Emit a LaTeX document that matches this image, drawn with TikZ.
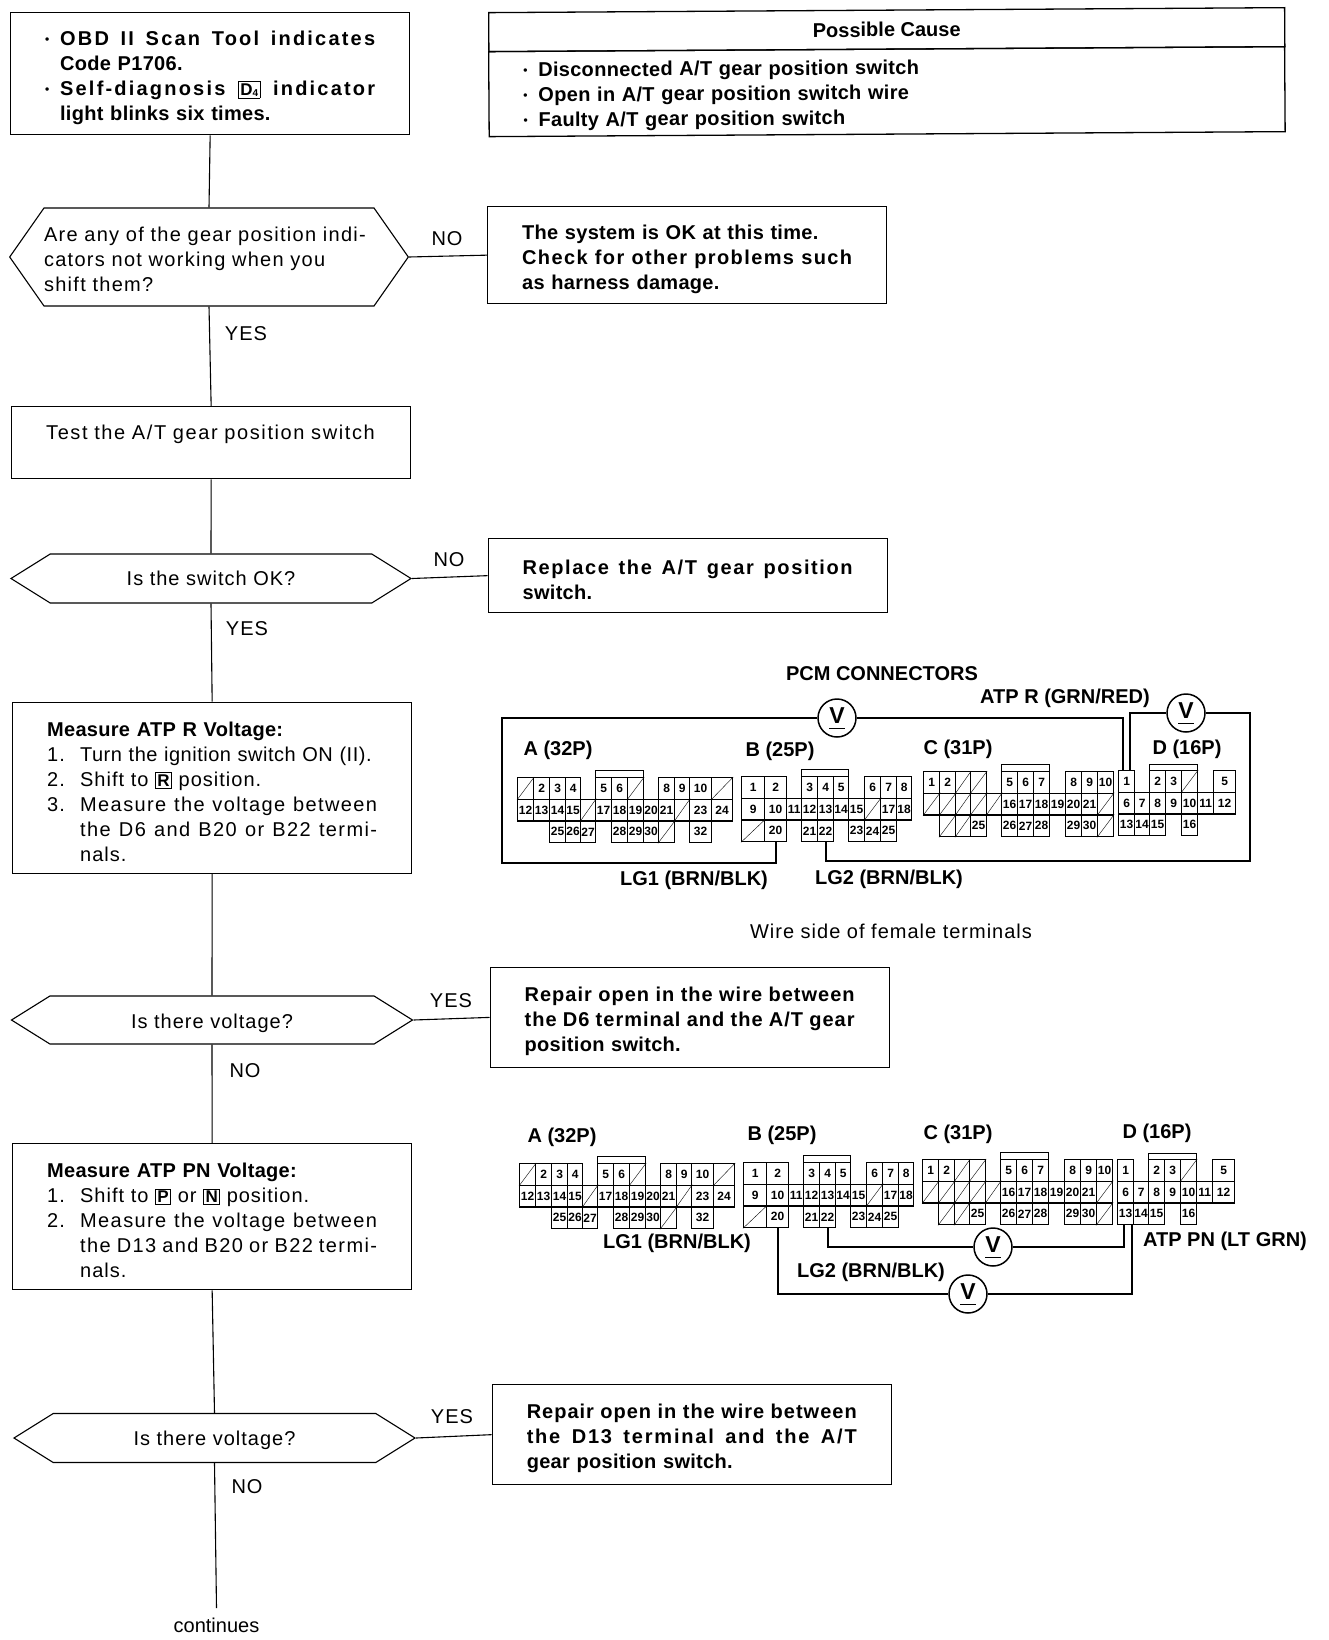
\documentclass[tikz,border=0pt]{standalone}
\usepackage{fontspec}
\usetikzlibrary{shapes.symbols}
\setmainfont{Liberation Sans}
\newfontfamily\bodyfont{Liberation Sans}[LetterSpace=5]
\newfontfamily\heavyfont{Liberation Sans Bold}[LetterSpace=1.5]
\newfontfamily\pinfont{Liberation Sans Bold}
\setlength{\fboxsep}{1.5pt}
\setlength{\fboxrule}{0.8pt}
\def\gapcell{-}
\def\slashcell{s}
% one column of pins in a connector
\newcommand{\pincolumn}[3]{%
	\foreach \t [count=\r from 0] in #3{
		\ifx\t\gapcell\else
		\ifx\t\slashcell
		\node[pincell, minimum width=#2] (s#1r\r) at (#1,\r*21.7) {};
		\draw (s#1r\r.south west)--(s#1r\r.north east);
		\else
		\node[pincell, minimum width=#2] (\t) at (#1,\r*21.7) {\t};
		\fi\fi
	}
}
\newcommand{\dotmark}{\makebox[15pt][l]{\raisebox{2pt}{\fontsize{12}{12}\selectfont •}}}
\newcommand{\fullline}[3][6]{\makebox[#2][s]{\addfontfeature{LetterSpace=#1}\spaceskip=.3em plus 1fil #3}}
\newcommand{\iconbox}[1]{\fbox{\fontsize{17}{17}\selectfont\pinfont #1}}
\newcommand{\numline}[1]{\makebox[33pt][l]{#1}}
\newcommand{\voltmark}{\underline{V\rule[-3pt]{0pt}{3pt}}}
\tikzset{
	basebox/.style={draw, line width=1.3pt, anchor=north west, inner xsep=34.5pt, inner ysep=0pt, text width=330pt, align=left},
	stepbox/.style={basebox, execute at begin node={\rule{0pt}{22pt}}, font=\fontsize{20}{25}\selectfont\heavyfont},
	testbox/.style={basebox, font=\fontsize{20}{25}\selectfont\bodyfont},
	choice/.style={draw, line width=1.1pt, signal, signal to=west and east, inner sep=0pt, font=\fontsize{20}{25}\selectfont\bodyfont},
	reply/.style={font=\fontsize{20}{25}\selectfont\bodyfont},
	wirelabel/.style={font=\fontsize{20}{25}\selectfont\bfseries},
	pincell/.style={draw, line width=1.2pt, anchor=north west, inner sep=0pt, minimum height=21.7, font=\fontsize{12}{12}\selectfont\pinfont},
	volt/.style={draw, circle, line width=1.5pt, inner sep=0pt, minimum size=38, font=\fontsize{23}{23}\selectfont\bfseries},
	wire/.style={line width=2pt},
	link/.style={line width=1.1pt}
}
\newcommand{\pcmconnectors}[9]{%
	\begin{scope}[shift={(#2,#3)},name prefix=#1A]
		\draw[line width=1pt] (78,-7) rectangle (126,0);
		\foreach \x/\w/\cells in {0/16/{s,12,-},16/16/{2,13,-},32/16/{3,14,25},48/15/{4,15,26},63/15/{-,s,27},78/16/{5,17,-},94/16/{6,18,28},110/16/{s,19,29},126/15/{-,20,30},141/16/{8,21,s},157/15/{9,s,-},172/22/{10,23,32},194/21/{s,24,-}}{
			\pincolumn{\x}{\w}{\cells}
		}
	\end{scope}
	\begin{scope}[shift={(#4,#5)},name prefix=#1B]
		\draw[line width=1pt] (60,-7) rectangle (107,0);
		\foreach \x/\w/\cells in {0/23/{1,9,s},23/22/{2,10,20},45/15/{-,11,-},60/16/{3,12,21},76/16/{4,13,22},92/15/{5,14,-},107/16/{-,15,23},123/16/{6,s,24},139/16/{7,17,25},155/15/{8,18,-}}{
			\pincolumn{\x}{\w}{\cells}
		}
	\end{scope}
	\begin{scope}[shift={(#6,#7)},name prefix=#1C]
		\draw[line width=1pt] (78,-7) rectangle (126,0);
		\foreach \x/\w/\cells in {0/16/{1,s,-},16/16/{2,s,s},32/15/{s,s,s},47/16/{s,s,25},63/15/{-,s,-},78/16/{5,16,26},94/16/{6,17,27},110/16/{7,18,28},126/16/{-,19,-},142/16/{8,20,29},158/16/{9,21,30},174/16/{10,s,s}}{
			\pincolumn{\x}{\w}{\cells}
		}
	\end{scope}
	\begin{scope}[shift={(#8,#9)},name prefix=#1D]
		\draw[line width=1pt] (31,-6) rectangle (79,0);
		\foreach \x/\w/\cells in {0/16/{1,6,13},16/15/{-,7,14},31/16/{2,8,15},47/16/{3,9,-},63/16/{s,10,16},79/16/{-,11,-},95/22/{5,12,-}}{
			\pincolumn{\x}{\w}{\cells}
		}
	\end{scope}
}
\begin{document}
\begin{tikzpicture}[x=1pt,y=-1pt]
	\useasboundingbox (0,0) rectangle (1328,1640);
	
	% left column
	\node[stepbox, minimum height=122] (start) at (10,12) {\dotmark\fullline[11]{315pt}{OBD II Scan Tool indicates}\\\hspace*{15pt}Code P1706.\\\dotmark\fullline[11]{315pt}{Self-diagnosis \iconbox{D\raisebox{-1pt}{\fontsize{10}{10}\selectfont 4}} indicator}\\\hspace*{15pt}light blinks six times.};
	\node[choice, minimum width=398, minimum height=98, signal pointer angle=110, text width=330pt, align=left, execute at begin node={\rule{0pt}{19pt}\addfontfeature{LetterSpace=6.5}}] (gear) at (209,257) {Are any of the gear position indi-\\cators not working when you\\shift them?};
	\node[testbox, minimum height=72] (test) at (11,406) {{\addfontfeature{LetterSpace=8}Test the A/T gear position switch}\\[-5pt]\mbox{}};
	\node[choice, minimum width=400, minimum height=49, signal pointer angle=64] (switch) at (211,578.5) {Is the switch OK?};
	\node[stepbox, minimum height=171] (atpr) at (12,701.5) {\rule{0pt}{0pt}\vphantom{M}\raisebox{0pt}{Measure ATP R Voltage:}\\{\bodyfont\numline{1.}\mbox{\addfontfeature{LetterSpace=2.5}Turn the ignition switch ON (II).}\\\numline{2.}Shift to \iconbox{R} position.\\\numline{3.}\fullline[7]{297pt}{Measure the voltage between}\\\hspace*{33pt}\fullline[7]{297pt}{the D6 and B20 or B22 termi-}\\\hspace*{33pt}nals.}};
	\node[choice, minimum width=401, minimum height=48, signal pointer angle=64, execute at begin node={\rule{0pt}{21pt}}] (volta) at (212,1020) {Is there voltage?};
	\node[stepbox, minimum height=146] (atppn) at (12,1143) {Measure ATP PN Voltage:\\{\bodyfont\numline{1.}Shift to \iconbox{P} or \iconbox{N} position.\\\numline{2.}\fullline[7]{297pt}{Measure the voltage between}\\\hspace*{33pt}\fullline[7]{297pt}{the D13 and B20 or B22 termi-}\\\hspace*{33pt}nals.}};
	\node[choice, minimum width=401, minimum height=49, signal pointer angle=64, execute at begin node={\rule{0pt}{19pt}}] (voltb) at (214.5,1438) {Is there voltage?};
	\coordinate (stop) at (216.5,1608);
	\node[font=\fontsize{20}{20}\selectfont] (cont) at (216.5,1625.5) {continues};
	
	% right column
	\node[draw, line width=1.3pt, anchor=north west, rotate=0.36, minimum width=796, minimum height=39, inner sep=0pt, font=\fontsize{20}{25}\selectfont\bfseries] (causehead) at (488,12) {Possible Cause};
	\node[basebox, rotate=0.36, text width=727pt, minimum height=85, execute at begin node={\rule{0pt}{20pt}}, font=\fontsize{20}{25}\selectfont\heavyfont] (causes) at (488,51) {\dotmark Disconnected A/T gear position switch\\\dotmark Open in A/T gear position switch wire\\\dotmark Faulty A/T gear position switch};
	\node[stepbox, minimum height=97] (okbox) at (487,206) {The system is OK at this time.\\\fullline[7]{330pt}{Check for other problems such}\\as harness damage.};
	\node[stepbox, minimum height=74] (replace) at (487.5,538) {\fullline[8]{330pt}{Replace the A/T gear position}\\switch.};
	\node[stepbox, minimum height=100.5] (repaira) at (489.5,966.5) {\fullline[5]{330pt}{Repair open in the wire between}\\\fullline[5]{330pt}{the D6 terminal and the A/T gear}\\position switch.};
	\node[stepbox, minimum height=100] (repairb) at (491.6,1384) {\fullline[5]{330pt}{Repair open in the wire between}\\\fullline[9]{330pt}{the D13 terminal and the A/T}\\gear position switch.};
	
	% answers
	\node[reply] (no1) at (447,238.5) {NO};
	\node[reply] (yes1) at (246,334) {YES};
	\node[reply] (no2) at (449,560) {NO};
	\node[reply] (yes2) at (247,629) {YES};
	\node[reply] (yes3) at (451,1001) {YES};
	\node[reply] (no3) at (245,1071) {NO};
	\node[reply] (yes4) at (452,1417) {YES};
	\node[reply] (no4) at (247,1487) {NO};
	
	\foreach \x/\y in
	{start.south/gear.north, gear.south/test.north, test.south/switch.north, switch.south/atpr.north, atpr.south/volta.north, volta.south/atppn.north, atppn.south/voltb.north, voltb.south/stop, gear.east/okbox.west, switch.east/replace.west, volta.east/repaira.west, voltb.east/repairb.west}{
		\draw[link] (\x)--(\y);
	}
	
	% upper connectors
	\pcmconnectors{r}{517}{777}{741}{776}{923}{771}{1118}{770}
	\node[wirelabel] (pcm) at (882,674) {PCM CONNECTORS};
	\node[wirelabel] (atprlab) at (1065,698) {ATP R (GRN/RED)};
	\node[wirelabel] (ra) at (558,750) {A (32P)};
	\node[wirelabel] (rb) at (780,751) {B (25P)};
	\node[wirelabel] (rc) at (958,749) {C (31P)};
	\node[wirelabel] (rd) at (1187,749) {D (16P)};
	\node[wirelabel] (lga) at (694,880) {LG1 (BRN/BLK)};
	\node[wirelabel] (lgb) at (889,879) {LG2 (BRN/BLK)};
	\node[reply] (wireside) at (891,931) {Wire side of female terminals};
	\node[volt] (va) at (837,718) {\voltmark};
	\node[volt] (vb) at (1186,713) {\voltmark};
	\draw[wire] (va.west)-|(502,863)-|(rB20.south);
	\draw[wire] (va.east)-|([xshift=-4pt]rD1.north);
	\draw[wire] ([xshift=3pt]rD1.north)|-(vb.west);
	\draw[wire] (vb.east)-|(1250,861)-|(rB22.south);
	
	% lower connectors
	\pcmconnectors{p}{519}{1163}{743}{1162}{922}{1159}{1117}{1159}
	\node[wirelabel] (pa) at (562,1137) {A (32P)};
	\node[wirelabel] (pb) at (782,1135) {B (25P)};
	\node[wirelabel] (pc) at (958,1134) {C (31P)};
	\node[wirelabel] (pd) at (1157,1133) {D (16P)};
	\node[wirelabel] (lgc) at (677,1243) {LG1 (BRN/BLK)};
	\node[wirelabel] (lgd) at (871,1272) {LG2 (BRN/BLK)};
	\node[wirelabel] (atppnlab) at (1225,1241) {ATP PN (LT GRN)};
	\node[volt] (vc) at (993,1247) {\voltmark};
	\node[volt] (vd) at (968,1294) {\voltmark};
	\draw[wire] (pB22.south)|-(vc.west);
	\draw[wire] (vc.east)-|([xshift=-2pt]pD13.south);
	\draw[wire] (pB20.south)|-(vd.west);
	\draw[wire] (vd.east)-|([xshift=6pt]pD13.south);
\end{tikzpicture}
\end{document}
